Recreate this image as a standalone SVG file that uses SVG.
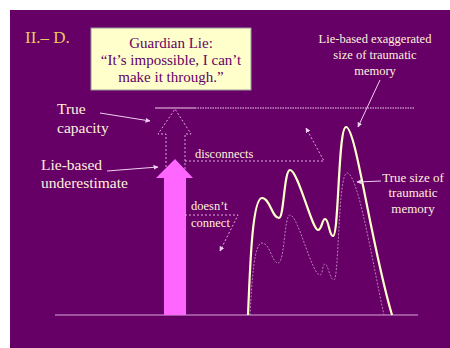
<svg xmlns="http://www.w3.org/2000/svg" width="450" height="348" viewBox="0 0 450 348">
<defs>
<style>
.t{font-family:"Liberation Serif","Times New Roman","DejaVu Serif",serif;fill:#FFF0DC}
.c{text-anchor:middle}
.dash{fill:none;stroke:#E0A8E0;stroke-width:1;stroke-dasharray:2,2}
.thin{fill:none;stroke:#F0D0F0;stroke-width:1}
</style>
<marker id="ah" viewBox="0 0 10 10" refX="9" refY="5" markerWidth="5" markerHeight="5" orient="auto"><path d="M0,0L10,5L0,10z" fill="#F0D0F0"/></marker>
</defs>
<rect width="450" height="348" fill="#fff"/>
<rect x="10" y="10" width="440" height="338" fill="#660066"/>
<g id="title"><text x="25" y="43" class="t" font-size="17" style="fill:#E8C860">II.– D.</text></g>
<g id="guardian">
<rect x="91" y="28" width="160" height="62" fill="#FFFFCC" stroke="#999" stroke-width="1"/>
<g class="t c" font-size="15" style="fill:#660066">
<text x="171" y="48">Guardian Lie:</text>
<text x="171" y="65">“It’s impossible, I can’t</text>
<text x="171" y="82">make it through.”</text>
</g>
</g>
<g id="baseline"><line x1="55" y1="315" x2="418" y2="315" stroke="#D8A8D8" stroke-width="1"/></g>
<g id="capacity-line">
<line x1="155" y1="108" x2="195" y2="108" stroke="#F0D0F0" stroke-width="1"/>
<line x1="195" y1="108" x2="415" y2="108" stroke="#F0D0F0" stroke-width="1.2" stroke-dasharray="1.5,1"/>
</g>
<g id="true-capacity-arrow"><path class="dash" d="M166,175V134H158L175,109L191,134H185V175"/></g>
<g id="pink-arrow"><path d="M164,315V178H156L175,159L193,178H186V315z" fill="#FF66FF"/></g>
<g id="exaggerated-curve"><path d="M248,315C250,270 252,198 262,198C270,198 272,218 279,218C284,218 284,170 290,170C298,170 312,230 318,230C322,230 322,219 325,219C329,219 329,236 333,236C339,236 338,127 346,127C356,127 370,240 392,315" fill="none" stroke="#FFFFCC" stroke-width="2.2"/></g>
<g id="true-curve"><path d="M250,315C252,280 254,243 262,243C270,243 272,263 278,263C285,263 284,215 290,215C298,215 312,275 320,275C323,275 322,264 325,264C328,264 330,280 334,280C339,280 338,173 347,173C358,173 372,260 384,315" fill="none" stroke="#B880B8" stroke-width="1" stroke-dasharray="2,1.5"/></g>
<g id="label-exaggerated" class="t c" font-size="12.5">
<text x="375" y="43">Lie-based exaggerated</text>
<text x="375" y="59">size of traumatic</text>
<text x="375" y="75">memory</text>
</g>
<g id="label-true-size" class="t c" font-size="13">
<text x="413" y="182">True size of</text>
<text x="413" y="197">traumatic</text>
<text x="413" y="213">memory</text>
</g>
<g id="label-true-capacity" class="t" font-size="15.5">
<text x="57" y="114">True</text>
<text x="57" y="133">capacity</text>
</g>
<g id="label-underestimate" class="t" font-size="15.5">
<text x="41" y="170">Lie-based</text>
<text x="41" y="188">underestimate</text>
</g>
<g id="label-disconnects" class="t" font-size="12.5"><text x="195" y="158">disconnects</text></g>
<g id="label-doesnt" class="t" font-size="12.5">
<text x="191" y="210">doesn’t</text>
<text x="191" y="227">connect</text>
</g>
<g id="connectors">
<line class="thin" x1="380" y1="80" x2="358" y2="127" marker-end="url(#ah)"/>
<line class="thin" x1="381" y1="181" x2="357" y2="182" marker-end="url(#ah)"/>
<line class="thin" x1="100" y1="113" x2="150" y2="121" marker-end="url(#ah)"/>
<line class="thin" x1="107" y1="171" x2="158" y2="167" marker-end="url(#ah)"/>
<path class="dash" d="M185,161H324L306,128" marker-end="url(#ah)"/>
<path class="dash" d="M185,215H238L220,251" marker-end="url(#ah)"/>
</g>
</svg>
